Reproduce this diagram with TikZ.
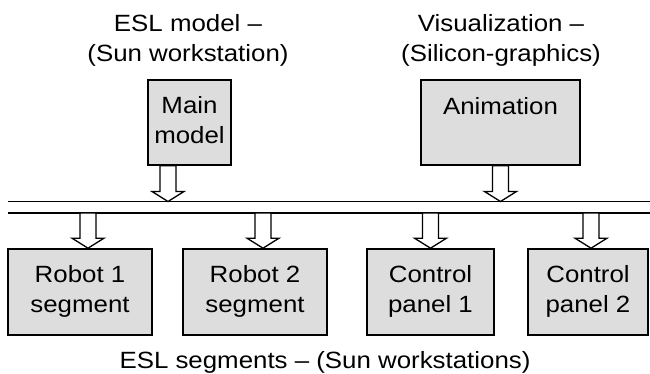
\documentclass[tikz,border=0pt]{standalone}
\usepackage{fontspec}
\setmainfont{Liberation Sans}[FakeStretch=1.1]
\usetikzlibrary{calc}
\definecolor{boxgrey}{HTML}{DDDDDD}
\newcommand\blockarr[3]{%
  \draw[blk] let \p1=#1, \p2=#2, \p3=#3 in
  (\x1-8pt,\y2) -- (\x1+8pt,\y2) -- (\x1+8pt,\y3+10pt) -- (\x1+16pt,\y3+10pt)
  -- (\x1,\y3) -- (\x1-16pt,\y3+10pt) -- (\x1-8pt,\y3+10pt) -- cycle;}
\begin{document}
\begin{tikzpicture}[x=1pt,y=-1pt,
  unit/.style={draw=black,line width=1.6pt,fill=boxgrey,inner sep=0pt},
  txt/.style={font=\fontsize{23.5}{30}\selectfont,align=center,inner sep=0pt},
  blk/.style={draw=black,line width=1.3pt,fill=white,line join=miter},
  bus/.style={draw=black,line width=1.5pt}]
\useasboundingbox (0,0) rectangle (650,374);
% boxes
\node[unit,minimum width=83pt,minimum height=85pt] (main) at (189.5,122.5) {};
\node[unit,minimum width=159pt,minimum height=85pt] (anim) at (500.5,122.5) {};
\node[unit,minimum width=144pt,minimum height=86pt] (r1) at (80,292) {};
\node[unit,minimum width=144pt,minimum height=86pt] (r2) at (255,292) {};
\node[unit,minimum width=127pt,minimum height=86pt] (cp1) at (430.5,292) {};
\node[unit,minimum width=120pt,minimum height=86pt] (cp2) at (588,292) {};
% box texts (anchor = baseline of last line)
\node[txt,anchor=base] (tmain) at ([yshift=-64pt]main.north) {Main\\model};
\node[txt,anchor=base] (tanim) at ([yshift=-35pt]anim.north) {Animation};
\node[txt,anchor=base] (tr1) at ([yshift=-64pt]r1.north) {Robot 1\\segment};
\node[txt,anchor=base] (tr2) at ([yshift=-64pt]r2.north) {Robot 2\\segment};
\node[txt,anchor=base] (tcp1) at ([yshift=-64pt]cp1.north) {Control\\panel 1};
\node[txt,anchor=base] (tcp2) at ([yshift=-64pt]cp2.north) {Control\\panel 2};
% captions
\node[txt,anchor=base] (cl) at (188,62) {ESL model –\\(Sun workstation)};
\node[txt,anchor=base] (cr) at (501,62) {Visualization –\\(Silicon-graphics)};
\node[txt,anchor=base] (cb) at (325,368) {ESL segments – (Sun workstations)};
% bus
\coordinate (bt) at (8,201.5);
\coordinate (bte) at (650,201.5);
\coordinate (bb) at (8,213);
\coordinate (bbe) at (650,213);
\draw[bus] (bt) -- (bte);
\draw[bus] (bb) -- (bbe);
% arrows
\blockarr{([xshift=-21.5pt]main.south)}{(main.south)}{(bt)}
\blockarr{(anim.south)}{(anim.south)}{(bt)}
\blockarr{([xshift=8pt]r1.north)}{(bb)}{(r1.north)}
\blockarr{([xshift=8pt]r2.north)}{(bb)}{(r2.north)}
\blockarr{(cp1.north)}{(bb)}{(cp1.north)}
\blockarr{([xshift=3pt]cp2.north)}{(bb)}{(cp2.north)}
\end{tikzpicture}
\end{document}
